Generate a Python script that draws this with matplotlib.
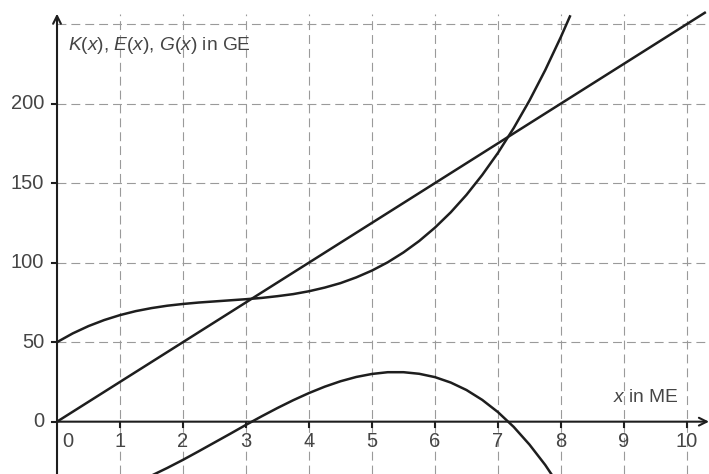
import matplotlib

matplotlib.use("Agg")

import matplotlib.pyplot as plt

plt.rcParams["font.family"] = ["Liberation Sans", "DejaVu Sans"]
plt.rcParams["mathtext.fontset"] = "custom"
plt.rcParams["mathtext.rm"] = "Liberation Sans"
plt.rcParams["mathtext.it"] = "Liberation Sans:italic"

# Werte (x in ME, Beträge in GE)
x_k = [0, 0.25, 0.5, 0.75, 1, 1.25, 1.5, 1.75, 2, 2.25, 2.5, 2.75, 3, 3.25,
       3.5, 3.75, 4, 4.25, 4.5, 4.75, 5, 5.25, 5.5, 5.75, 6, 6.25, 6.5, 6.75,
       7, 7.25, 7.5, 7.75, 8, 8.15]
k_vals = [50, 55.5, 60.1, 63.9, 67, 69.5, 71.4, 72.9, 74, 74.9, 75.6, 76.3,
          77, 77.8, 78.9, 80.2, 82, 84.3, 87.1, 90.7, 95, 100.2, 106.4, 113.6,
          122, 131.6, 142.6, 155.1, 169, 184.6, 201.9, 221, 242, 255.5]

x_e = [0, 10.3]
e_vals = [0, 257.5]

x_g = [1.25, 1.5, 1.75, 2, 2.25, 2.5, 2.75, 3, 3.25, 3.5, 3.75, 4, 4.25, 4.5,
       4.75, 5, 5.25, 5.5, 5.75, 6, 6.25, 6.5, 6.75, 7, 7.25, 7.5, 7.75, 8]
g_vals = [-38.2, -33.9, -29.1, -24, -18.6, -13.1, -7.6, -2, 3.4, 8.6, 13.5,
          18, 22, 25.4, 28.1, 30, 31.1, 31.1, 30.1, 28, 24.6, 19.9, 13.7, 6,
          -3.3, -14.4, -27.2, -42]

x_ticks = [0, 1, 2, 3, 4, 5, 6, 7, 8, 9, 10]
y_ticks = [0, 50, 100, 150, 200]
y_grid = [50, 100, 150, 200, 250]

XMIN, XMAX = -0.905, 10.35
YMIN, YMAX = -32.9, 265.1
TOP = 256

text_col = "#454545"
grid_col = "#9a9a9a"
line_col = "#1e1e1e"

fig = plt.figure(figsize=(7.09, 4.74), dpi=100)
ax = fig.add_axes([0, 0, 1, 1])
ax.set_xlim(XMIN, XMAX)
ax.set_ylim(YMIN, YMAX)
ax.axis("off")

# Raster
for xv in x_ticks[1:]:
    ax.plot([xv, xv], [YMIN, TOP], color=grid_col, lw=0.8,
            linestyle=(0, (8, 4.5)), zorder=1)
for yv in y_grid:
    ax.plot([0, XMAX], [yv, yv], color=grid_col, lw=0.8,
            linestyle=(0, (8, 4.5)), zorder=1)

# Achsen mit Pfeilen
ax.annotate("", xy=(0, TOP + 0.5), xytext=(0, YMIN),
            arrowprops=dict(arrowstyle="->", color=line_col, lw=1.5,
                            mutation_scale=14, shrinkA=0, shrinkB=0), zorder=3)
ax.annotate("", xy=(XMAX, 0), xytext=(0, 0),
            arrowprops=dict(arrowstyle="->", color=line_col, lw=1.5,
                            mutation_scale=14, shrinkA=0, shrinkB=0), zorder=3)

# Striche und Beschriftungen
dx = 5 / 63.0
dy = 5 / 1.5908
for yv in y_ticks:
    ax.plot([-dx, 0], [yv, yv], color=line_col, lw=1.5, zorder=3)
    ax.text(-13 / 63.0, yv, str(yv), ha="right", va="center",
            fontsize=14.5, color=text_col)
for xv in x_ticks:
    if xv > 0:
        ax.plot([xv, xv], [0, -dy], color=line_col, lw=1.5, zorder=3)
    xpos = 0.17 if xv == 0 else xv
    ax.text(xpos, -12.5, str(xv), ha="center", va="center",
            fontsize=14.5, color=text_col)

# Kurven
ax.plot(x_e, e_vals, color=line_col, lw=1.8, zorder=4, solid_capstyle="butt")
ax.plot(x_k, k_vals, color=line_col, lw=1.8, zorder=4, solid_capstyle="butt")
ax.plot(x_g, g_vals, color=line_col, lw=1.8, zorder=4, solid_capstyle="butt")

ax.text(0.175, 236.8, r"$K(x)$, $E(x)$, $G(x)$ in GE", ha="left",
        va="center", fontsize=13.8, color=text_col)
ax.text(9.87, 14.9, r"$x$ in ME", ha="right", va="center",
        fontsize=13.8, color=text_col)

fig.savefig("out.png", dpi=100)
